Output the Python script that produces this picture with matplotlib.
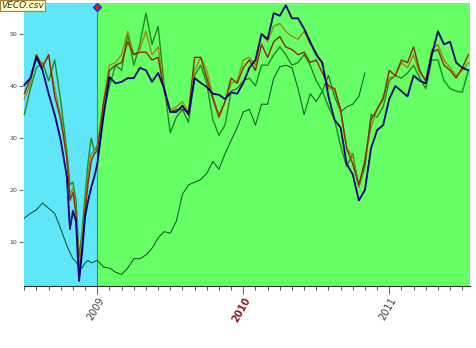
import numpy as np
import matplotlib
matplotlib.use("Agg")
import matplotlib.pyplot as plt

# sample positions (half-month steps, finer in the late-2008 dip)
steps = [0, 1, 2, 3, 4, 5, 6, 7, 7.5, 8, 8.5, 9, 9.5, 10, 10.5, 11, 11.5] + list(range(12, 74))
t = 2008.5 + np.array(steps) / 24.0

blue = [40.2, 41.5, 45.5, 43, 38.5, 34.5, 29.5, 22.5, 12.5, 16, 14, 2.5, 8, 15, 18, 20.5, 22.5,
        25, 34, 41.7, 40.5, 40.8, 41.5, 41.5, 43.5, 43, 40.8, 42.5, 39.5, 35, 35, 36.2, 34.5, 41.5, 40.6,
        39.8, 38.5, 38.3, 37.5, 38.8, 38.5, 40.6, 43.5, 45, 50, 49, 54, 53.5, 55.5, 53, 53, 51,
        48.5, 46, 44.5, 38, 33.5, 32, 25, 23, 18, 20, 28, 31.5, 32.5, 37.5, 40, 39, 38, 42, 41,
        40.5, 46, 50.5, 48, 48.5, 44.5, 43.5, 43]
green = [34.5, 39.5, 43.5, 44.5, 41, 45, 37, 27.5, 21, 21.5, 18, 7, 12, 19, 25.5, 30, 27.5,
         28.5, 35, 40, 44, 43, 50, 44, 48, 54, 48, 51.5, 40, 31, 34, 35.5, 33, 42, 44,
         40.5, 33.5, 30.5, 32.5, 39, 39.5, 41, 41.5, 40, 44, 44, 46, 47.5, 46, 44, 44.5, 46,
         44, 41, 39, 36, 33.5, 28.5, 24.5, 27, 20.5, 24.5, 34.5, 34, 36, 41, 42, 41.5, 42.5, 44, 41.5,
         39.5, 45, 45, 41, 39.5, 39, 38.8, 43]
olive = [37.5, 40.5, 46, 44, 46, 39.5, 34, 27, 19, 20.5, 16.5, 5, 10, 17, 23, 27, 27.5,
         28, 37, 44, 44.5, 46, 50.5, 46, 47, 50.5, 46, 47.5, 39, 35.5, 36, 37, 35, 43, 45.5,
         43, 38, 34.5, 37, 40.5, 41, 45, 45.5, 44, 50, 48.5, 51.5, 52, 50.5, 49.5, 49, 50.5,
         48, 46.5, 44, 39.5, 39.5, 35, 28, 26.5, 20.5, 26, 32, 35.5, 38, 41.5, 42, 44.5, 43.5, 46, 42.5,
         41, 47, 48, 45, 43.5, 42, 43, 44.5]
brown = [38.5, 41.5, 46, 43.5, 46, 38, 33.5, 26, 18, 19.5, 15.5, 4, 9, 16, 21.5, 25.5, 27,
         27.5, 36.5, 43, 44, 44.5, 48.5, 46, 46.5, 46.5, 45, 45.5, 39, 35, 35.5, 35.5, 35, 45.5, 45.5,
         41.5, 37.5, 34, 37, 41.5, 40.5, 43.5, 45, 43, 48, 45.5, 48.5, 49.5, 47.5, 47, 46, 46.5,
         44.5, 45, 42.5, 40, 39.5, 35.5, 28, 25, 21, 25.5, 33.5, 35.5, 37.5, 43, 42, 45, 44.5, 47.5, 43,
         41, 46.5, 47, 44, 43, 41.5, 43.5, 46]
thin = [14.6, 15.5, 16.2, 17.5, 16.5, 15.5, 12.5, 9.3, 8, 6.8, 6.2, 5.2, 5, 6, 6.5, 6, 6.2,
        6.5, 5.2, 5, 4.2, 3.8, 5, 6.8, 6.8, 7.5, 8.8, 10.8, 12, 11.7, 14, 19.2, 21, 21.5, 22,
        23.2, 25.5, 24, 27, 29.5, 32, 35, 35.5, 32.5, 36.5, 36.5, 41.5, 43.7, 44, 43.5, 39.5,
        34.5, 38.5, 37, 39, 42, 38, 35, 36, 36.5, 38, 42.5]

year_ticks = [2009, 2010, 2011]
year_labels = ["2009", "2010", "2011"]
year_colors = ["#404040", "#8B1A1A", "#404040"]
y_ticks = [10, 20, 30, 40, 50]
split = 2009.0
title_text = "VECO.csv"

fig = plt.figure(figsize=(4.77, 3.48), dpi=100)
ax = fig.add_axes([23.5 / 477, 1 - 286 / 348, (470 - 23.5) / 477, 283 / 348])
x0, x1 = 2008.4945, 2011.553
ax.set_xlim(x0, x1)
ax.set_ylim(1.55, 55.95)

ax.axvspan(x0, split, color="#5FE6F8", lw=0, zorder=0)
ax.axvspan(split, x1, color="#66FF66", lw=0, zorder=0)
ax.axvline(split, color="#3A8A7A", lw=0.8, zorder=1)

ax.plot(t[:len(thin)], thin, color="#0B4A28", lw=0.7, zorder=2)
ax.plot(t, green, color="#1F8A1F", lw=1.0, zorder=3)
ax.plot(t, olive, color="#9A8A10", lw=1.0, zorder=4)
ax.plot(t, brown, color="#8B2A0A", lw=1.0, zorder=5)
ax.plot(t, blue, color="#00007A", lw=1.3, zorder=6)

ax.plot([split], [0.985], transform=ax.get_xaxis_transform(), marker="D", ms=4,
        mfc="#D02020", mec="#2030C0", mew=1, clip_on=False, zorder=7)

for s in ["top", "right", "left"]:
    ax.spines[s].set_visible(False)
ax.spines["bottom"].set_color("#303030")
ax.spines["bottom"].set_linewidth(0.8)

ax.set_yticks(y_ticks)
ax.set_yticklabels([str(v) for v in y_ticks])
ax.tick_params(axis="y", length=3, width=0.6, color="#505050", labelsize=4.5,
               labelcolor="#404040", pad=1.5)

ax.set_xticks(year_ticks)
ax.set_xticklabels([])
ax.set_xticks([2008.5 + k / 12 for k in range(37) if (2008.5 + k / 12) % 1 > 1e-6], minor=True)
ax.tick_params(axis="x", which="major", length=6, width=0.8, color="#D04040")
ax.tick_params(axis="x", which="minor", length=3, width=0.6, color="#303030")

for xv, lab, col in zip(year_ticks, year_labels, year_colors):
    ax.text(xv + 0.005, -0.035, lab, transform=ax.get_xaxis_transform(), rotation=60,
            ha="right", va="top", rotation_mode="anchor", fontsize=7, color=col,
            fontweight="bold" if lab == "2010" else "normal")

fig.text(1 / 477, 1 - 1 / 348, title_text, ha="left", va="top", fontsize=6.5, style="italic",
         color="#303030",
         bbox=dict(boxstyle="square,pad=0.15", fc="#FFFFC8", ec="#A08040", lw=0.8))

fig.savefig("out.png", dpi=100)
